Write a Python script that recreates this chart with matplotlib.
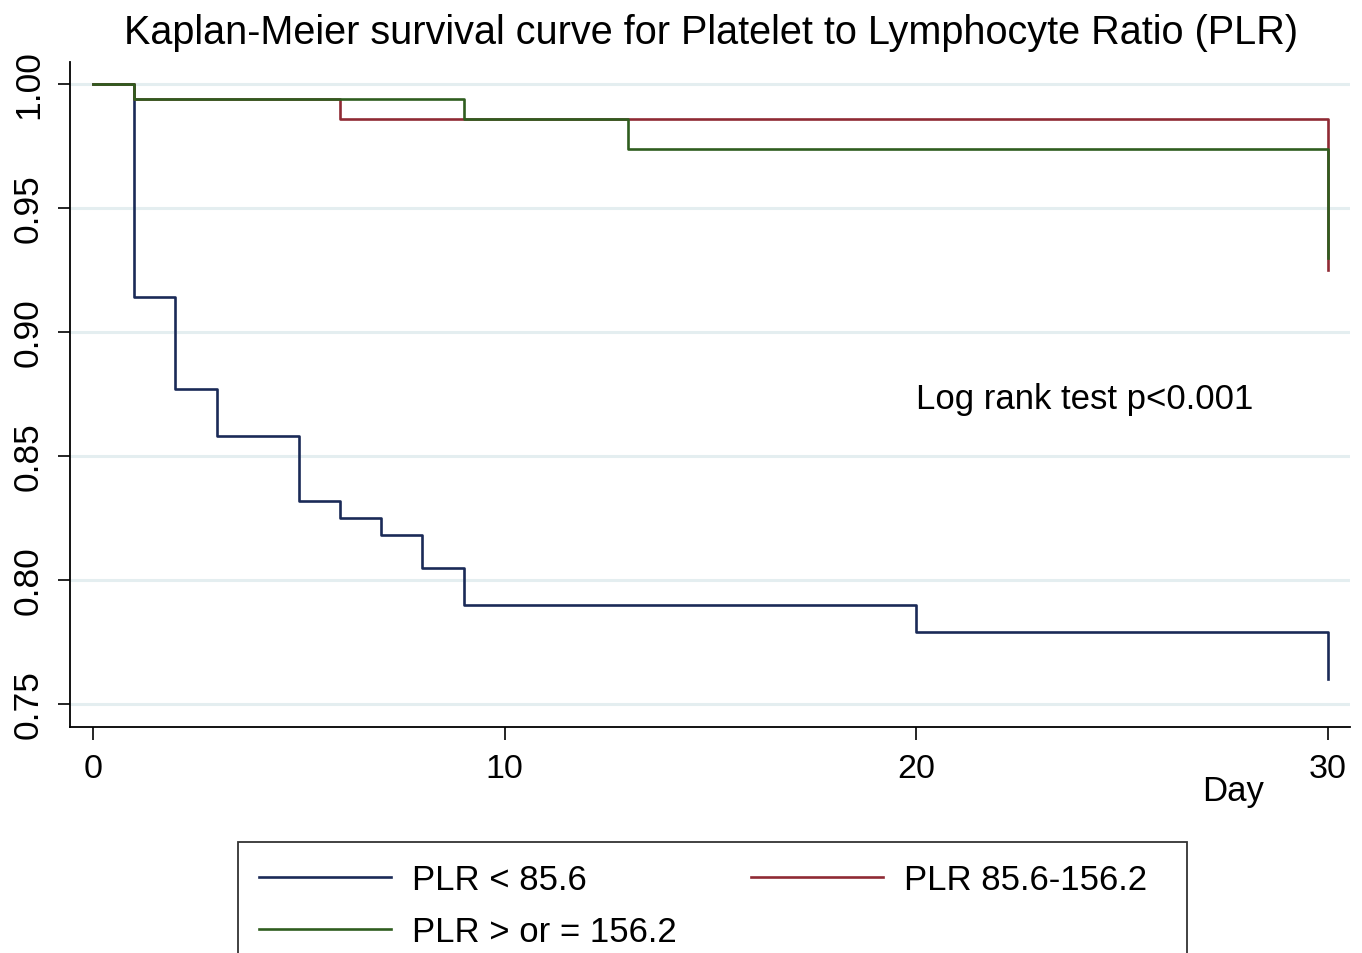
import matplotlib
matplotlib.use('Agg')
import matplotlib.pyplot as plt
from matplotlib.lines import Line2D

plt.rcParams['font.family'] = ['Liberation Sans', 'DejaVu Sans']

# Kaplan-Meier step data
days_low = [0, 1, 2, 3, 5, 6, 7, 8, 9, 20, 30]
surv_low = [1.0, 0.914, 0.877, 0.858, 0.832, 0.825, 0.818, 0.805, 0.790, 0.779, 0.760]

days_mid = [0, 1, 6, 30]
surv_mid = [1.0, 0.994, 0.986, 0.925]

days_high = [0, 1, 9, 13, 30]
surv_high = [1.0, 0.994, 0.986, 0.974, 0.930]

labels = ['PLR < 85.6', 'PLR 85.6-156.2', 'PLR > or = 156.2']
colors = ['#1a2a57', '#8f2a34', '#2f5d1f']

yticks = [0.75, 0.80, 0.85, 0.90, 0.95, 1.00]
xticks = [0, 10, 20, 30]

fig = plt.figure(figsize=(13.62, 9.54), dpi=100)
ax = fig.add_axes([0.0514, 0.2369, 0.9396, 0.6971])

ax.step(days_low, surv_low, where='post', color=colors[0], lw=1.9, zorder=3)
ax.step(days_mid, surv_mid, where='post', color=colors[1], lw=1.9, zorder=4)
ax.step(days_high, surv_high, where='post', color=colors[2], lw=1.9, zorder=5)

ax.set_xlim(-0.56, 30.53)
ax.set_ylim(0.7407, 1.0089)
ax.set_xticks(xticks)
ax.set_yticks(yticks)
ax.set_yticklabels(['%.2f' % v for v in yticks], rotation=90, va='center')
ax.tick_params(axis='both', length=9, width=1.2, direction='out')
ax.tick_params(axis='y', pad=9, labelsize=25.5)
ax.tick_params(axis='x', pad=10, labelsize=24.5)

ax.grid(axis='y', color='#e4eef0', lw=2.2, zorder=0)
for s in ['top', 'right']:
    ax.spines[s].set_visible(False)
for s in ['left', 'bottom']:
    ax.spines[s].set_linewidth(1.3)

ax.text(20.0, 0.873, 'Log rank test p<0.001', fontsize=25, va='center', ha='left')
ax.text(0.9086, -0.095, 'Day', transform=ax.transAxes, fontsize=25, ha='center', va='center')

fig.suptitle('Kaplan-Meier survival curve for Platelet to Lymphocyte Ratio (PLR)',
             fontsize=28.5, x=0.522, y=0.985, va='top')

handles = [Line2D([], [], color=c, lw=1.9) for c in colors]
order = [0, 2, 1]
leg_labels = [labels[i] for i in order]
leg_labels[2] = leg_labels[2] + '  '
leg = fig.legend([handles[i] for i in order], leg_labels,
                 loc='upper left', bbox_to_anchor=(238 / 1362, 1 - 843 / 954),
                 ncol=2, fontsize=25, frameon=True, fancybox=False,
                 handlelength=3.8, handletextpad=0.6, columnspacing=2.15,
                 labelspacing=0.55, borderpad=0.6, borderaxespad=0)
leg.get_frame().set_edgecolor('black')
leg.get_frame().set_linewidth(1.3)

fig.savefig('out.png', dpi=100, facecolor='white')
